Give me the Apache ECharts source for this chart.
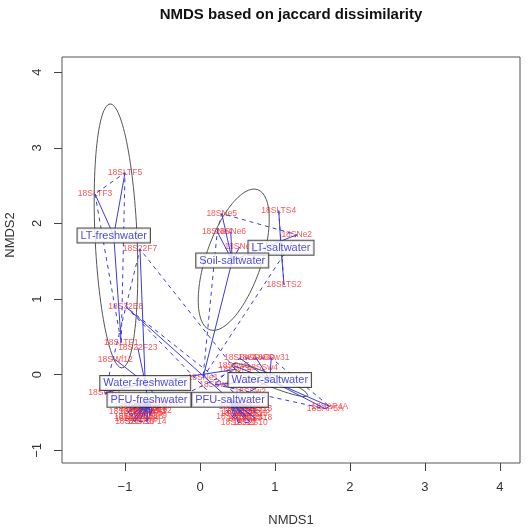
<!DOCTYPE html>
<html><head><meta charset="utf-8">
<script src="https://cdn.jsdelivr.net/npm/echarts@6/dist/echarts.min.js"></script>
<style>html,body{margin:0;padding:0;background:#fff}#c{width:529px;height:529px}</style>
</head><body><div id="c"></div>
<script>
// ---- data ----
const groupNames = ['LT-freshwater','LT-saltwater','Soil-saltwater','Water-freshwater','Water-saltwater','PFU-freshwater','PFU-saltwater'];
const centroidX = [-1.15, 1.08, 0.43, -0.73, 0.93, -0.68, 0.40];
const centroidY = [1.84, 1.68, 1.51, -0.11, -0.07, -0.33, -0.33];

const sampleNames = [
  '18SLTF5','18SLTF3','18SLTF1',
  '18SLTS4','18SLTS2',
  '18SNe5','18SNe4','18SNe6','18SNe3','18SNe2','18SNe1',
  '18S22F7','18S22F23','18SWf12','18SWF1','18SWF9','18SWF3','18SWF4',
  '18SSw1','18SSw30','18SSw31','18SSw5','18SSw4','18SAP5A','18SAP4A','18SSw6','18SSw2',
  '18S22F1','18S22F2','18S22F3','18S22F4','18S22F5','18S22F6','18S22F8','18S22F9','18S22F10','18S22F14','18S22F11','18S22F12',
  '18S22F15','18S22F16','18S22F17','18S22F18',
  '18S2S11','18S2S12','18S2S13','18S2S14','18S2S15','18S2S16','18S2S17','18S2S18','18S2S19','18S2S10','18S32E8',
  '18S2S20','18S2S21','18S2S22','18S2S23'
];
const sampleX = [
  -1.00,-1.40,-1.05,
  1.05,1.12,
  0.29,0.23,0.41,0.53,1.29,0.04,
  -0.80,-0.83,-1.13,-1.27,0.47,-0.67,-0.51,
  0.53,0.75,0.95,0.45,0.83,1.67,1.73,0.20,0.67,
  -0.92,-0.79,-0.67,-0.85,-0.72,-0.92,-0.79,-0.67,-0.87,-0.71,-0.96,-0.64,
  -0.80,-0.75,-0.88,-0.70,
  0.48,0.63,0.73,0.53,0.67,0.45,0.59,0.73,0.51,0.67,-0.99,
  0.58,0.62,0.50,0.70
];
const sampleY = [
  2.67,2.39,0.42,
  2.17,1.19,
  2.13,1.89,1.89,1.69,1.85,-0.04,
  1.66,0.36,0.20,-0.24,0.07,-0.49,-0.38,
  0.22,0.22,0.22,0.12,0.09,-0.45,-0.42,-0.13,-0.22,
  -0.42,-0.40,-0.44,-0.49,-0.50,-0.55,-0.58,-0.54,-0.62,-0.62,-0.49,-0.48,
  -0.45,-0.56,-0.58,-0.46,
  -0.42,-0.41,-0.45,-0.49,-0.52,-0.55,-0.58,-0.57,-0.63,-0.63,0.90,
  -0.45,-0.55,-0.52,-0.48
];
const sampleGroup = [
  0,0,0,
  1,1,
  2,2,2,2,2,2,
  3,3,3,3,3,3,3,
  4,4,4,4,4,4,4,4,4,
  5,5,5,5,5,5,5,5,5,5,5,5,
  5,5,5,5,
  6,6,6,6,6,6,6,6,6,6,6,
  6,6,6,6
];
const ellipseGroup = [0, 2, 4];
const ellipseCX = [-1.12, 0.45, 0.93];
const ellipseCY = [1.835, 1.52, -0.07];
const ellipseA = [1.747, 0.98, 0.55];
const ellipseB = [0.28, 0.37, 0.08];
const ellipseAngle = [92.6, 71, -22];
const xTicks = [-1, 0, 1, 2, 3, 4];
const yTicks = [-1, 0, 1, 2, 3, 4];

// ---- helpers ----
const FONT = "'Liberation Sans', Arial, Helvetica, sans-serif";
const BLUE = '#3c3cdc';
function convexHull(pts) {
  const p = pts.slice().sort((a, b) => a[0] - b[0] || a[1] - b[1]);
  if (p.length < 3) return p;
  const cross = (o, a, b) => (a[0]-o[0])*(b[1]-o[1]) - (a[1]-o[1])*(b[0]-o[0]);
  const lower = [], upper = [];
  for (const q of p) { while (lower.length >= 2 && cross(lower[lower.length-2], lower[lower.length-1], q) <= 0) lower.pop(); lower.push(q); }
  for (let i = p.length - 1; i >= 0; i--) { const q = p[i]; while (upper.length >= 2 && cross(upper[upper.length-2], upper[upper.length-1], q) <= 0) upper.pop(); upper.push(q); }
  upper.pop(); lower.pop();
  return lower.concat(upper);
}

const series = [];
// sample labels
series.push({
  type: 'scatter', z: 2, silent: true, symbolSize: 0,
  data: sampleNames.map((n, i) => ({ name: n, value: [sampleX[i], sampleY[i]] })),
  label: { show: true, position: 'inside', formatter: '{b}', color: '#ff2a2a', fontSize: 8.5, fontFamily: FONT }
});
// hulls
groupNames.forEach((g, gi) => {
  const pts = [];
  sampleGroup.forEach((sg, i) => { if (sg === gi) pts.push([sampleX[i], sampleY[i]]); });
  const h = convexHull(pts);
  if (h.length > 2) h.push(h[0]);
  series.push({
    type: 'line', z: 3, silent: true, symbol: 'none', data: h, animation: false,
    lineStyle: { color: BLUE, width: 1, type: [4, 4] }
  });
});
// spiders
series.push({
  type: 'lines', coordinateSystem: 'cartesian2d', z: 3, silent: true,
  data: sampleGroup.map((g, i) => ({ coords: [[centroidX[g], centroidY[g]], [sampleX[i], sampleY[i]]] })),
  lineStyle: { color: BLUE, width: 1, opacity: 1 }
});
// ellipses
ellipseGroup.forEach((g, k) => {
  const pts = [];
  const th = ellipseAngle[k] * Math.PI / 180;
  for (let i = 0; i <= 120; i++) {
    const t = i / 120 * 2 * Math.PI;
    const ex = ellipseA[k] * Math.cos(t), ey = ellipseB[k] * Math.sin(t);
    pts.push([ellipseCX[k] + ex * Math.cos(th) - ey * Math.sin(th), ellipseCY[k] + ex * Math.sin(th) + ey * Math.cos(th)]);
  }
  series.push({
    type: 'line', z: 3, silent: true, symbol: 'none', data: pts, smooth: false,
    lineStyle: { color: '#555', width: 1 }
  });
});
// centroid labels
series.push({
  type: 'scatter', z: 10, silent: true, symbolSize: 0,
  data: groupNames.map((n, i) => ({ name: n, value: [centroidX[i], centroidY[i]] })),
  label: {
    show: true, position: 'inside', formatter: '{b}', color: '#2020d8', fontSize: 11, fontFamily: FONT,
    backgroundColor: '#fff', borderColor: '#222', borderWidth: 1, padding: [1, 3, 1, 3], lineHeight: 12
  }
});

const chart = echarts.init(document.getElementById('c'), null, { renderer: 'canvas' });
chart.setOption({
  animation: false,
  backgroundColor: '#fff',
  grid: { left: 62, top: 57, width: 458, height: 406, show: true, borderColor: '#555', borderWidth: 1, backgroundColor: 'transparent' },
  xAxis: {
    type: 'value', min: -1.84, max: 4.267,
    axisLine: { show: false, onZero: false }, splitLine: { show: false },
    axisTick: { show: true, inside: false, length: 8, lineStyle: { color: '#444' }, customValues: xTicks },
    axisLabel: { customValues: xTicks, margin: 18, fontSize: 13, color: '#333', fontFamily: FONT, formatter: v => (v < 0 ? '\u2212' + Math.abs(v) : String(v)) }
  },
  yAxis: {
    type: 'value', min: -1.167, max: 4.2,
    axisLine: { show: false, onZero: false }, splitLine: { show: false },
    axisTick: { show: true, inside: false, length: 8, lineStyle: { color: '#444' }, customValues: yTicks },
    axisLabel: { customValues: yTicks, rotate: 90, margin: 18, fontSize: 13, color: '#333', fontFamily: FONT, formatter: v => (v < 0 ? '\u2212' + Math.abs(v) : String(v)) }
  },
  graphic: [
    { type: 'text', x: 291, y: 15, style: { text: 'NMDS based on jaccard dissimilarity', font: 'bold 15px ' + FONT, fill: '#111', textAlign: 'center', textVerticalAlign: 'middle', align: 'center', verticalAlign: 'middle' } },
    { type: 'text', x: 291, y: 520, style: { text: 'NMDS1', font: '13px ' + FONT, fill: '#333', textAlign: 'center', textVerticalAlign: 'middle', align: 'center', verticalAlign: 'middle' } },
    { type: 'text', x: 10, y: 235, rotation: Math.PI / 2, style: { text: 'NMDS2', font: '13px ' + FONT, fill: '#333', textAlign: 'center', textVerticalAlign: 'middle', align: 'center', verticalAlign: 'middle' } }
  ],
  series: series
});
</script>
</body></html>
